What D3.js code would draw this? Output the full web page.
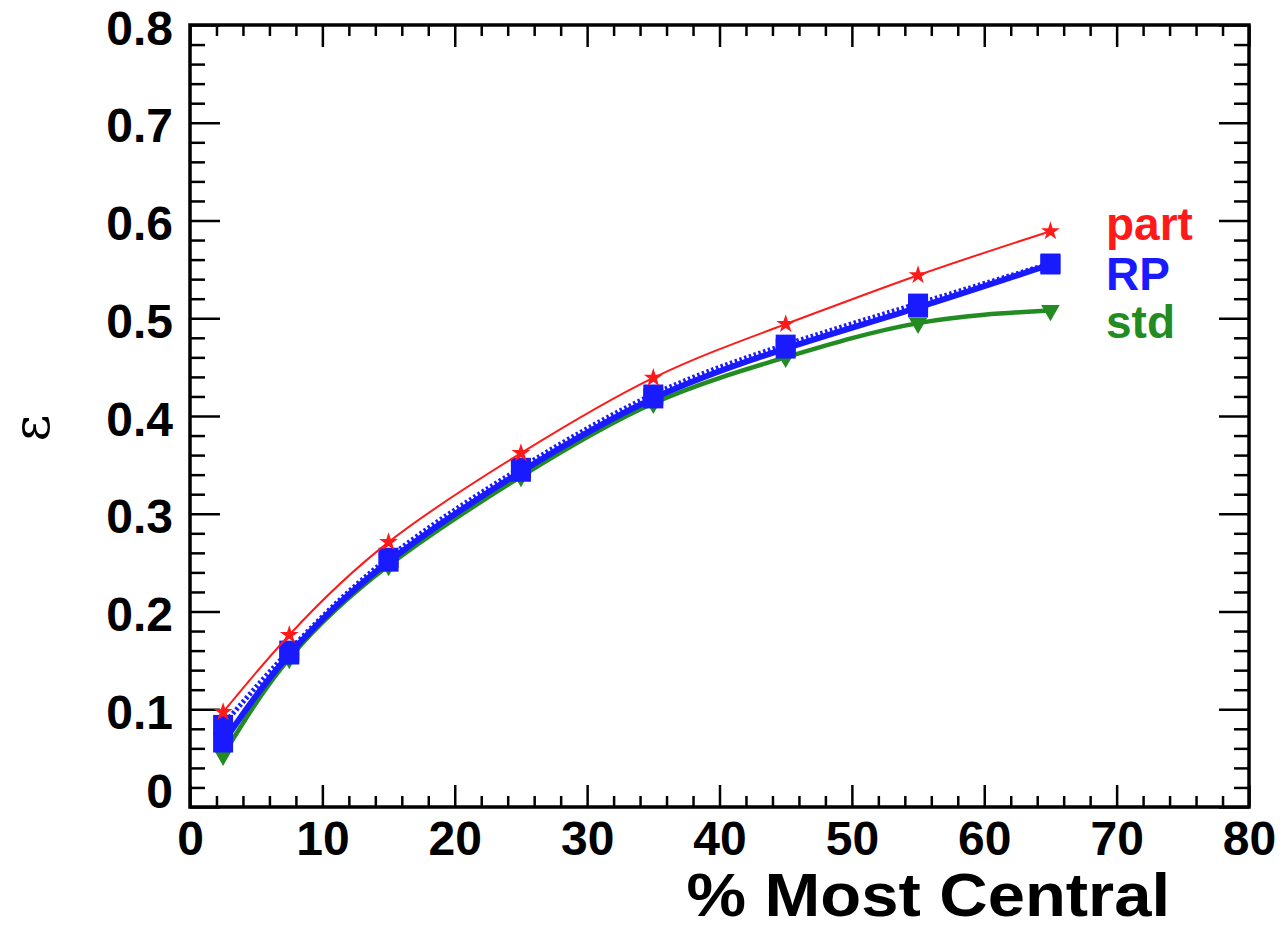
<!DOCTYPE html>
<html>
<head>
<meta charset="utf-8">
<script src="https://cdn.jsdelivr.net/npm/d3@7"></script>
<style>
  html, body { margin: 0; padding: 0; background: #fff; }
  svg { display: block; }
  text { font-family: "Liberation Sans", Arial, Helvetica, sans-serif; }
</style>
</head>
<body>
<svg id="chart" width="1282" height="930"></svg>
<script>
// Centrality bins (bin centres, % most central)
const centrality = [2.5, 7.5, 15, 25, 35, 45, 55, 65];
// Eccentricity per definition
const epsPart  = [0.097, 0.176, 0.271, 0.362, 0.439, 0.494, 0.544, 0.589];
const epsRP    = [0.066, 0.156, 0.251, 0.343, 0.418, 0.469, 0.511, 0.555];
const epsRPalt = [0.084, 0.160, 0.255, 0.347, 0.422, 0.473, 0.515, 0.556];
const epsStd   = [0.053, 0.152, 0.247, 0.338, 0.413, 0.460, 0.495, 0.508];

const xMajor = [0, 10, 20, 30, 40, 50, 60, 70, 80];
const yMajor = [0, 0.1, 0.2, 0.3, 0.4, 0.5, 0.6, 0.7, 0.8];
const seriesLabels = ["part", "RP", "std"];
const xTitle = "% Most Central";
const yTitle = "\u03b5";

const svg = d3.select("#chart");
const L = 190, R = 1249, T = 25, B = 807;

const x = d3.scaleLinear().domain([0, 80]).range([L, R]);
const y = d3.scaleLinear().domain([0, 0.8]).range([B, T]);

const xMinor = d3.range(0, 80.001, 2).filter(v => Math.abs(v % 10) > 1e-6);
const yMinor = d3.range(0, 0.8001, 0.02).map(v => +v.toFixed(2))
  .filter(v => Math.abs(Math.round(v * 10) - v * 10) > 1e-6);

function styleAxis(g, showLabels) {
  g.select(".domain").remove();
  g.selectAll(".tick line").attr("stroke", "#000").attr("stroke-width", 2.5);
  if (!showLabels) g.selectAll(".tick text").remove();
  else g.selectAll(".tick text")
    .attr("fill", "#000")
    .style("font-size", "48px")
    .style("font-weight", "bold")
    .style("font-family", "'Liberation Sans', Arial, sans-serif");
}

// bottom axis
svg.append("g").attr("transform", `translate(0,${B})`)
  .call(d3.axisBottom(x).tickValues(xMajor).tickSize(-22).tickPadding(14).tickFormat(d3.format("d")))
  .call(g => styleAxis(g, true));
svg.append("g").attr("transform", `translate(0,${B})`)
  .call(d3.axisBottom(x).tickValues(xMinor).tickSize(-11))
  .call(g => styleAxis(g, false));
// top axis
svg.append("g").attr("transform", `translate(0,${T})`)
  .call(d3.axisTop(x).tickValues(xMajor).tickSize(-22))
  .call(g => styleAxis(g, false));
svg.append("g").attr("transform", `translate(0,${T})`)
  .call(d3.axisTop(x).tickValues(xMinor).tickSize(-11))
  .call(g => styleAxis(g, false));
// left axis
svg.append("g").attr("transform", `translate(${L},0)`)
  .call(d3.axisLeft(y).tickValues(yMajor).tickSize(-30).tickPadding(17)
    .tickFormat(d => d === 0 ? "0" : d3.format(".1f")(d)))
  .call(g => styleAxis(g, true))
  .call(g => g.selectAll(".tick text").attr("dy", "0.4em"))
  .call(g => g.selectAll(".tick text").filter(d => d === 0).attr("dy", "0em"));
svg.append("g").attr("transform", `translate(${L},0)`)
  .call(d3.axisLeft(y).tickValues(yMinor).tickSize(-15))
  .call(g => styleAxis(g, false));
// right axis
svg.append("g").attr("transform", `translate(${R},0)`)
  .call(d3.axisRight(y).tickValues(yMajor).tickSize(-30))
  .call(g => styleAxis(g, false));
svg.append("g").attr("transform", `translate(${R},0)`)
  .call(d3.axisRight(y).tickValues(yMinor).tickSize(-15))
  .call(g => styleAxis(g, false));

// frame
svg.append("rect")
  .attr("x", L).attr("y", T).attr("width", R - L).attr("height", B - T)
  .attr("fill", "none").attr("stroke", "#000").attr("stroke-width", 3.5);

// smooth curves through the points
const curve = d3.line().x(d => x(d[0])).y(d => y(d[1])).curve(d3.curveNatural);
const pts = vals => centrality.map((c, i) => [c, vals[i]]);

const green = "#228b22", blue = "#1a1aff", red = "#ff1a1a";

// std (green, down triangles)
svg.append("path").attr("d", curve(pts(epsStd)))
  .attr("fill", "none").attr("stroke", green).attr("stroke-width", 4.5);
svg.selectAll(".tri").data(pts(epsStd)).join("path")
  .attr("transform", d => `translate(${x(d[0])},${y(d[1])}) rotate(180)`)
  .attr("d", d3.symbol(d3.symbolTriangle, 150)())
  .attr("fill", green);

// RP (blue, solid thick line plus dotted companion)
svg.append("path").attr("d", curve(pts(epsRP)))
  .attr("fill", "none").attr("stroke", blue).attr("stroke-width", 6);
svg.append("path").attr("d", curve(pts(epsRPalt)))
  .attr("fill", "none").attr("stroke", blue).attr("stroke-width", 5)
  .attr("stroke-dasharray", "2.5 2.5");
svg.selectAll(".sqa").data(pts(epsRPalt)).join("rect")
  .attr("x", d => x(d[0]) - 10).attr("y", d => y(d[1]) - 10)
  .attr("width", 20).attr("height", 20).attr("fill", blue);
svg.selectAll(".sq").data(pts(epsRP)).join("rect")
  .attr("x", d => x(d[0]) - 10).attr("y", d => y(d[1]) - 10)
  .attr("width", 20).attr("height", 20).attr("fill", blue);

// part (red, stars)
svg.append("path").attr("d", curve(pts(epsPart)))
  .attr("fill", "none").attr("stroke", red).attr("stroke-width", 2);
svg.selectAll(".star").data(pts(epsPart)).join("path")
  .attr("transform", d => `translate(${x(d[0])},${y(d[1])})`)
  .attr("d", d3.symbol(d3.symbolStar, 110)())
  .attr("fill", red);

// series labels
const labelColors = [red, blue, green];
const labelY = [240, 290, 338];
seriesLabels.forEach((t, i) => {
  svg.append("text").attr("x", 1106).attr("y", labelY[i])
    .attr("fill", labelColors[i])
    .style("font-size", "46px").style("font-weight", "bold")
    .text(t);
});

// axis titles
svg.append("text")
  .attr("transform", "translate(1170,916) scale(1.08,1)")
  .attr("text-anchor", "end")
  .style("font-size", "62px").style("font-weight", "bold")
  .attr("fill", "#000")
  .text(xTitle);
svg.append("text")
  .attr("transform", "translate(49,428) rotate(-90)")
  .attr("text-anchor", "middle")
  .style("font-family", "'DejaVu Serif', 'Liberation Serif', serif")
  .style("font-size", "52px")
  .attr("fill", "#000")
  .text(yTitle);
</script>
</body>
</html>
